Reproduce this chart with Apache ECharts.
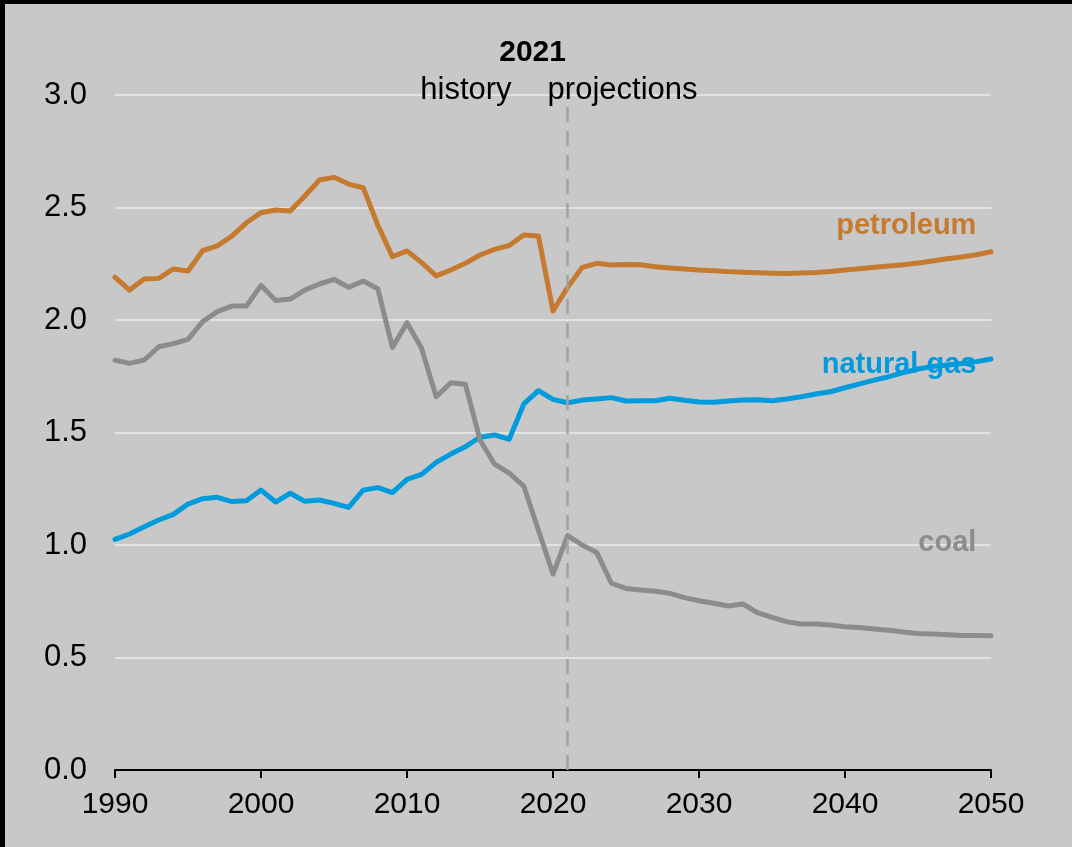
<!DOCTYPE html>
<html>
<head>
<meta charset="utf-8">
<script src="https://cdn.jsdelivr.net/npm/echarts@6/dist/echarts.min.js"></script>
<style>
  html, body { margin: 0; padding: 0; background: #c8c8c8; }
  #chart { width: 1072px; height: 847px; }
</style>
</head>
<body>
<div id="chart"></div>
<script>
// Energy consumption by fuel, history to 2021 and projections to 2050
const years = [];
for (let y = 1990; y <= 2050; y++) years.push(y);

const petroleum = [
  2.190, 2.133, 2.182, 2.185, 2.227, 2.218, 2.308, 2.329, 2.373, 2.432,
  2.477, 2.489, 2.484, 2.551, 2.622, 2.634, 2.604, 2.588, 2.422, 2.281,
  2.307, 2.255, 2.196, 2.222, 2.252, 2.289, 2.314, 2.331, 2.378, 2.373,
  2.040, 2.145, 2.234, 2.252, 2.244, 2.247, 2.246, 2.237, 2.231, 2.227,
  2.222, 2.219, 2.215, 2.212, 2.210, 2.208, 2.207, 2.209, 2.211, 2.216,
  2.222, 2.228, 2.234, 2.240, 2.246, 2.253, 2.262, 2.272, 2.280, 2.290,
  2.303
];

const naturalGas = [
  1.025, 1.049, 1.081, 1.111, 1.136, 1.182, 1.206, 1.212, 1.193, 1.197,
  1.244, 1.191, 1.230, 1.194, 1.200, 1.185, 1.167, 1.244, 1.255, 1.233,
  1.292, 1.314, 1.367, 1.404, 1.437, 1.479, 1.489, 1.470, 1.627, 1.686,
  1.647, 1.632, 1.644, 1.649, 1.655, 1.640, 1.641, 1.641, 1.652, 1.643,
  1.636, 1.634, 1.640, 1.644, 1.646, 1.641, 1.649, 1.659, 1.671, 1.681,
  1.699, 1.716, 1.733, 1.748, 1.766, 1.782, 1.793, 1.800, 1.807, 1.815,
  1.827
];

const coal = [
  1.821, 1.807, 1.822, 1.881, 1.895, 1.914, 1.993, 2.037, 2.062, 2.062,
  2.154, 2.087, 2.093, 2.133, 2.160, 2.181, 2.145, 2.173, 2.139, 1.878,
  1.988, 1.874, 1.659, 1.721, 1.714, 1.467, 1.359, 1.319, 1.262, 1.067,
  0.871, 1.042, 1.000, 0.966, 0.830, 0.807, 0.800, 0.794, 0.785, 0.766,
  0.752, 0.741, 0.729, 0.738, 0.699, 0.678, 0.659, 0.649, 0.649, 0.644,
  0.637, 0.633, 0.627, 0.621, 0.613, 0.607, 0.604, 0.601, 0.598, 0.598,
  0.597
];

const xTicks = [1990, 2000, 2010, 2020, 2030, 2040, 2050];
const yTicks = [0, 0.5, 1.0, 1.5, 2.0, 2.5, 3.0];
const dividerYear = 2021;

const seriesNames = ['petroleum', 'natural gas', 'coal'];
const seriesColors = ['#c57a30', '#009bdc', '#8c8c8c'];
const seriesValues = [petroleum, naturalGas, coal];
// where each series name is written (data coordinates of its right edge)
const nameAnchors = [[2049, 2.42], [2049, 1.80], [2049, 1.01]];

const FONT = '"Liberation Sans", Arial, sans-serif';

const chart = echarts.init(document.getElementById('chart'), null, { renderer: 'canvas' });

const series = seriesValues.map((vals, i) => ({
  name: seriesNames[i],
  type: 'line',
  data: years.map((y, k) => [y, vals[k]]),
  showSymbol: false,
  symbol: 'none',
  lineStyle: { color: seriesColors[i], width: 5, join: 'round', cap: 'round' },
  itemStyle: { color: seriesColors[i] },
  animation: false,
  z: 3
}));

// dashed divider between history and projections
series.push({
  type: 'line',
  data: [],
  silent: true,
  animation: false,
  markLine: {
    symbol: 'none',
    silent: true,
    animation: false,
    label: { show: false },
    lineStyle: { color: '#a2a2a2', width: 2.5, type: [15, 9] },
    data: [[{ coord: [dividerYear, 0] }, { coord: [dividerYear, 2.96] }]]
  },
  z: 2
});

chart.setOption({
  backgroundColor: '#c8c8c8',
  animation: false,
  grid: { left: 115, right: 81, top: 95, bottom: 77, containLabel: false },
  xAxis: {
    type: 'value',
    min: 1990,
    max: 2050,
    interval: 10,
    axisLine: { show: true, lineStyle: { color: '#000', width: 2 } },
    axisTick: { show: true, length: 8, lineStyle: { color: '#000', width: 2 } },
    axisLabel: {
      color: '#000', fontSize: 30, fontFamily: FONT, margin: 20,
      formatter: v => (xTicks.includes(v) ? String(v) : '')
    },
    splitLine: { show: false }
  },
  yAxis: {
    type: 'value',
    min: 0,
    max: 3,
    interval: 0.5,
    axisLine: { show: false },
    axisTick: { show: false },
    axisLabel: {
      color: '#000', fontSize: 31, fontFamily: FONT, margin: 28,
      formatter: v => (yTicks.includes(v) ? v.toFixed(1) : '')
    },
    splitLine: { show: true, lineStyle: { color: '#e2e2e2', width: 2 } }
  },
  series: series
});

// text annotations placed from data coordinates
const px = (x, y) => chart.convertToPixel({ gridIndex: 0 }, [x, y]);
const divTop = px(dividerYear, 3.0);
const graphics = [
  { type: 'rect', shape: { x: 0, y: 0, width: 1072, height: 4 }, style: { fill: '#000' }, z: 100 },
  { type: 'rect', shape: { x: 0, y: 0, width: 5, height: 847 }, style: { fill: '#000' }, z: 100 },
  {
    type: 'text', x: divTop[0] - 35, y: 53, z: 50,
    style: { text: '2021', fill: '#000', font: 'bold 30px ' + FONT, textAlign: 'center', textVerticalAlign: 'middle' }
  },
  {
    type: 'text', x: divTop[0] - 56, y: 90, z: 50,
    style: { text: 'history', fill: '#000', font: '31px ' + FONT, textAlign: 'right', textVerticalAlign: 'middle' }
  },
  {
    type: 'text', x: divTop[0] - 20, y: 90, z: 50,
    style: { text: 'projections', fill: '#000', font: '31px ' + FONT, textAlign: 'left', textVerticalAlign: 'middle' }
  }
];
nameAnchors.forEach((a, i) => {
  const p = px(a[0], a[1]);
  graphics.push({
    type: 'text', x: p[0], y: p[1], z: 1,
    style: { text: seriesNames[i], fill: seriesColors[i], font: 'bold 29px ' + FONT, textAlign: 'right', textVerticalAlign: 'middle' }
  });
});
chart.setOption({ graphic: graphics });
</script>
</body>
</html>
